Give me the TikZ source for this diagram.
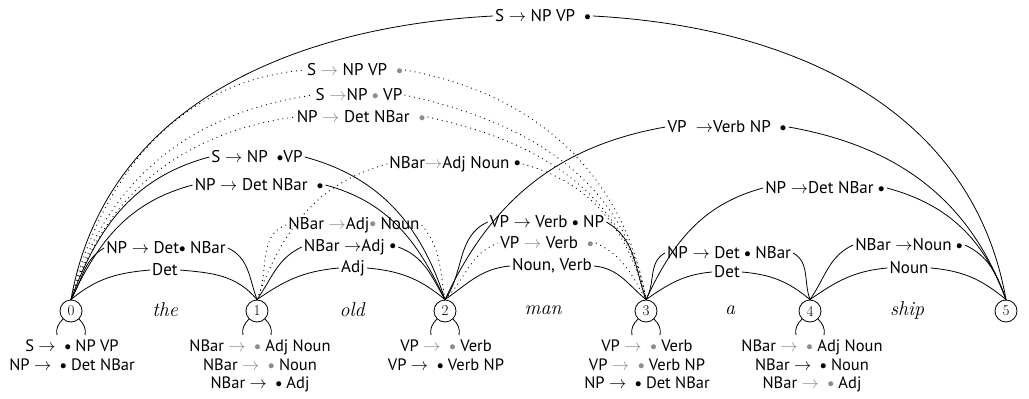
\documentclass[tikz,border=0pt]{standalone}
\usepackage{fontspec}
\usepackage{graphicx}
\newfontfamily\lf{PT Sans}
\definecolor{gr}{gray}{0.55}
\newcommand{\rar}{$\rightarrow$}
\newcommand{\grar}{\textcolor{gr}{$\rightarrow$}}
\newcommand{\kdt}{\raisebox{0.08em}{\scalebox{0.75}{$\bullet$}}}
\newcommand{\gdt}{\textcolor{gr}{\raisebox{0.08em}{\scalebox{0.75}{$\bullet$}}}}
\tikzset{
  st/.style={circle,draw,line width=0.8pt,minimum size=22pt,inner sep=0pt,font=\fontsize{15}{15}\selectfont},
  wd/.style={font=\itshape\fontsize{20}{20}\selectfont},
  lb/.style={font=\lf\fontsize{17}{18}\selectfont,inner sep=2pt},
  bl/.style={font=\lf\fontsize{16.5}{18.5}\selectfont,align=center,inner sep=0pt,anchor=north},
  ed/.style={line width=0.8pt},
  dt/.style={line width=0.9pt,dash pattern=on 0.9pt off 4pt},
  lp/.style={line width=0.8pt}
}
\begin{document}
\begin{tikzpicture}[x=1pt,y=1pt]
\useasboundingbox (0,0) rectangle (1029,-399);
% states
\node[st] (n0) at (71,-311) {0};
\node[st] (n1) at (257,-311) {1};
\node[st] (n2) at (445,-311) {2};
\node[st] (n3) at (646,-311) {3};
\node[st] (n4) at (810,-311) {4};
\node[st] (n5) at (1006,-311) {5};
% words
\node[wd] (w1) at (165,-310) {the};
\node[wd] (w2) at (352,-310) {old};
\node[wd] (w3) at (543,-310) {man};
\node[wd] (w4) at (730,-310) {a};
\node[wd] (w5) at (907,-310) {ship};
% edge labels
\node[lb] (a1) at (543,-16) {S \rar\ NP VP \ \kdt};
\node[lb] (d1) at (355,-70) {S \grar\ NP VP \ \gdt};
\node[lb] (d2) at (359,-95) {S \grar NP \gdt\ VP};
\node[lb] (d3) at (361,-117) {NP \grar\ Det NBar \ \gdt};
\node[lb] (a2) at (257,-157) {S \rar\ NP \ \kdt VP};
\node[lb] (a3) at (259,-185) {NP \rar\ Det NBar \ \kdt};
\node[lb] (d4) at (455,-164) {NBar\grar Adj Noun \kdt};
\node[lb] (a4) at (166,-248) {NP \rar\ Det\kdt\ NBar};
\node[lb] (a5) at (165,-270) {Det};
\node[lb] (d5) at (354,-225) {NBar \grar Adj\gdt\ Noun};
\node[lb] (a6) at (350,-247) {NBar \rar Adj \kdt};
\node[lb] (a7) at (353,-268) {Adj};
\node[lb] (a8) at (727,-127) {VP \ \rar Verb NP \ \kdt};
\node[lb] (a9) at (547,-222) {VP \rar\ Verb \kdt\ NP};
\node[lb] (d6) at (547,-243) {VP \grar\ Verb \ \gdt};
\node[lb] (a10) at (552,-266) {Noun, Verb};
\node[lb] (a11) at (825,-188) {NP \rar Det NBar \kdt};
\node[lb] (a12) at (729,-253) {NP \rar\ Det \kdt\ NBar};
\node[lb] (a13) at (727,-272) {Det};
\node[lb] (a14) at (909,-245) {NBar \rar Noun \kdt};
\node[lb] (a15) at (909,-268) {Noun};
% edges from 0
\draw[ed] (n0.north) to[out=80,in=183] (a1.west);
\draw[ed] (a1.east) to[out=-3,in=100] (n5.north);
\draw[dt] (n0.north) to[out=76,in=185] (d1.west);
\draw[dt] (d1.east) to[out=-10,in=100] (n3.north);
\draw[dt] (n0.north) to[out=74,in=188] (d2.west);
\draw[dt] (d2.east) to[out=-12,in=100] (n3.north);
\draw[dt] (n0.north) to[out=72,in=188] (d3.west);
\draw[dt] (d3.east) to[out=-12,in=102] (n3.north);
\draw[ed] (n0.north) to[out=70,in=195] (a2.west);
\draw[ed] (a2.east) to[out=-15,in=108] (n2.north);
\draw[ed] (n0.north) to[out=65,in=195] (a3.west);
\draw[ed] (a3.east) to[out=-15,in=115] (n2.north);
\draw[ed] (n0.north) to[out=60,in=210] (a4.west);
\draw[ed] (a4.east) to[out=-25,in=110] (n1.north);
\draw[ed] (n0.north) to[out=40,in=185] (a5.west);
\draw[ed] (a5.east) to[out=-5,in=130] (n1.north);
% edges from 1
\draw[dt] (n1.north) to[out=70,in=195] (d4.west);
\draw[dt] (d4.east) to[out=-15,in=105] (n3.north);
\draw[dt] (n1.north) to[out=65,in=200] (d5.west);
\draw[dt] (d5.east) to[out=-50,in=100] (n2.north);
\draw[ed] (n1.north) to[out=55,in=205] (a6.west);
\draw[ed] (a6.east) to[out=-20,in=120] (n2.north);
\draw[ed] (n1.north) to[out=35,in=185] (a7.west);
\draw[ed] (a7.east) to[out=-5,in=140] (n2.north);
% edges from 2
\draw[ed] (n2.north) to[out=65,in=190] (a8.west);
\draw[ed] (a8.east) to[out=-10,in=110] (n5.north);
\draw[ed] (n2.north) to[out=55,in=205] (a9.west);
\draw[ed] (a9.east) to[out=-30,in=110] (n3.north);
\draw[dt] (n2.north) to[out=45,in=200] (d6.west);
\draw[dt] (d6.east) to[out=-25,in=120] (n3.north);
\draw[ed] (n2.north) to[out=35,in=185] (a10.west);
\draw[ed] (a10.east) to[out=-5,in=140] (n3.north);
% edges from 3
\draw[ed] (n3.north) to[out=65,in=195] (a11.west);
\draw[ed] (a11.east) to[out=-15,in=110] (n5.north);
\draw[ed] (n3.north) to[out=60,in=210] (a12.west);
\draw[ed] (a12.east) to[out=-30,in=110] (n4.north);
\draw[ed] (n3.north) to[out=35,in=185] (a13.west);
\draw[ed] (a13.east) to[out=-5,in=140] (n4.north);
% edges from 4
\draw[ed] (n4.north) to[out=55,in=205] (a14.west);
\draw[ed] (a14.east) to[out=-25,in=110] (n5.north);
\draw[ed] (n4.north) to[out=35,in=185] (a15.west);
\draw[ed] (a15.east) to[out=-5,in=140] (n5.north);
% self loops
\foreach \n in {n0,n1,n2,n3,n4}{
  \draw[lp] (\n.225) to[out=225,in=100] ++(-6,-16);
  \draw[lp] (\n.-45) to[out=-45,in=80] ++(6,-16);
}
% predicted items
\node[bl] (b0) at (72,-340) {S \rar\ \ \kdt\ NP VP\\NP \rar\ \ \kdt\ Det NBar};
\node[bl] (b1) at (260,-340) {NBar \grar\ \ \gdt\ Adj Noun\\NBar \grar\ \ \gdt\ Noun\\NBar \rar\ \ \kdt\ Adj};
\node[bl] (b2) at (446,-340) {VP \grar\ \ \gdt\ Verb\\VP \rar\ \ \kdt\ Verb NP};
\node[bl] (b3) at (647,-340) {VP \grar\ \ \gdt\ Verb\\VP \grar\ \ \gdt\ Verb NP\\NP \rar\ \ \kdt\ Det NBar};
\node[bl] (b4) at (812,-340) {NBar \grar\ \ \gdt\ Adj Noun\\NBar \rar\ \ \kdt\ Noun\\NBar \grar\ \ \gdt\ Adj};
\end{tikzpicture}
\end{document}
